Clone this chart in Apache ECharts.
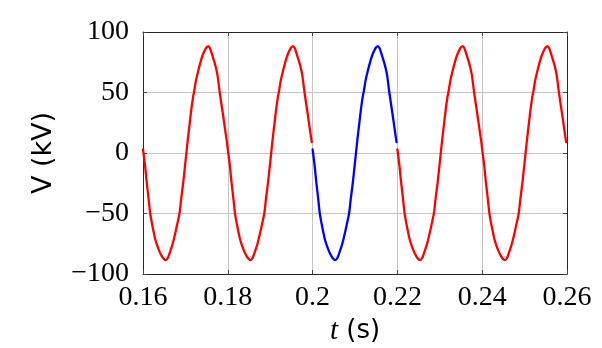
<!DOCTYPE html>
<html>
<head>
<meta charset="utf-8">
<script src="https://cdn.jsdelivr.net/npm/echarts@6/dist/echarts.min.js"></script>
<style>
html,body{margin:0;padding:0;background:#fff;}
#chart{width:602px;height:348px;}
</style>
</head>
<body>
<div id="chart"></div>
<script>
// x tick labels and y tick labels
const xTickLabels = ['0.16', '0.18', '0.2', '0.22', '0.24', '0.26'];
const yTickLabels = ['\u2212100', '\u221250', '0', '50', '100'];

// Segment 1 (red): t in s
const tRed1 = [
0.1600,0.1605,0.1609,0.1613,0.1617,0.1621,0.1625,0.1629,0.1634,0.1639,0.1644,0.1649,0.1654,0.1658,0.1662,0.1666,0.1670,0.1675,0.1680,0.1686,0.1690,0.1695,0.1699,0.1702,0.1706,0.1710,0.1714,0.1718,0.1721,0.1725,0.1730,0.1734,0.1738,0.1742,0.1746,0.1750,0.1754,0.1758,0.1761,0.1765,0.1769,0.1773,0.1776,0.1781,0.1786,0.1791,0.1795,0.1798,
0.1800,0.1805,0.1809,0.1813,0.1817,0.1821,0.1825,0.1829,0.1834,0.1839,0.1844,0.1849,0.1854,0.1858,0.1862,0.1866,0.1870,0.1875,0.1880,0.1886,0.1890,0.1895,0.1899,0.1902,0.1906,0.1910,0.1914,0.1918,0.1921,0.1925,0.1930,0.1934,0.1938,0.1942,0.1946,0.1950,0.1954,0.1958,0.1961,0.1965,0.1969,0.1973,0.1976,0.1981,0.1986,0.1991,0.1995,0.1998
];
// V in kV
const vRed1 = [
3,-11,-25,-37,-50,-58,-65,-71.5,-77,-81.5,-85,-87.5,-88.5,-87,-83.5,-79.5,-75,-68,-60,-50,-38,-24,-11,-1,12,24,36,46,51.5,60,67.5,73,78,82,85,87.3,88.3,86.5,83.5,79,74.5,69,63.5,50,38,26,16,9,
3,-11,-25,-37,-50,-58,-65,-71.5,-77,-81.5,-85,-87.5,-88.5,-87,-83.5,-79.5,-75,-68,-60,-50,-38,-24,-11,-1,12,24,36,46,51.5,60,67.5,73,78,82,85,87.3,88.3,86.5,83.5,79,74.5,69,63.5,50,38,26,16,9
];

// Segment 2 (blue)
const tBlue = [
0.2000,0.2005,0.2009,0.2013,0.2017,0.2021,0.2025,0.2029,0.2034,0.2039,0.2044,0.2049,0.2054,0.2058,0.2062,0.2066,0.2070,0.2075,0.2080,0.2086,0.2090,0.2095,0.2099,0.2102,0.2106,0.2110,0.2114,0.2118,0.2121,0.2125,0.2130,0.2134,0.2138,0.2142,0.2146,0.2150,0.2154,0.2158,0.2161,0.2165,0.2169,0.2173,0.2176,0.2181,0.2186,0.2191,0.2195,0.2198
];
const vBlue = [
3,-11,-25,-37,-50,-58,-65,-71.5,-77,-81.5,-85,-87.5,-88.5,-87,-83.5,-79.5,-75,-68,-60,-50,-38,-24,-11,-1,12,24,36,46,51.5,60,67.5,73,78,82,85,87.3,88.3,86.5,83.5,79,74.5,69,63.5,50,38,26,16,9
];

// Segment 3 (red)
const tRed2 = [
0.2200,0.2205,0.2209,0.2213,0.2217,0.2221,0.2225,0.2229,0.2234,0.2239,0.2244,0.2249,0.2254,0.2258,0.2262,0.2266,0.2270,0.2275,0.2280,0.2286,0.2290,0.2295,0.2299,0.2302,0.2306,0.2310,0.2314,0.2318,0.2321,0.2325,0.2330,0.2334,0.2338,0.2342,0.2346,0.2350,0.2354,0.2358,0.2361,0.2365,0.2369,0.2373,0.2376,0.2381,0.2386,0.2391,0.2395,0.2398,
0.2400,0.2405,0.2409,0.2413,0.2417,0.2421,0.2425,0.2429,0.2434,0.2439,0.2444,0.2449,0.2454,0.2458,0.2462,0.2466,0.2470,0.2475,0.2480,0.2486,0.2490,0.2495,0.2499,0.2502,0.2506,0.2510,0.2514,0.2518,0.2521,0.2525,0.2530,0.2534,0.2538,0.2542,0.2546,0.2550,0.2554,0.2558,0.2561,0.2565,0.2569,0.2573,0.2576,0.2581,0.2586,0.2591,0.2595,0.2598
];
const vRed2 = [
3,-11,-25,-37,-50,-58,-65,-71.5,-77,-81.5,-85,-87.5,-88.5,-87,-83.5,-79.5,-75,-68,-60,-50,-38,-24,-11,-1,12,24,36,46,51.5,60,67.5,73,78,82,85,87.3,88.3,86.5,83.5,79,74.5,69,63.5,50,38,26,16,9,
3,-11,-25,-37,-50,-58,-65,-71.5,-77,-81.5,-85,-87.5,-88.5,-87,-83.5,-79.5,-75,-68,-60,-50,-38,-24,-11,-1,12,24,36,46,51.5,60,67.5,73,78,82,85,87.3,88.3,86.5,83.5,79,74.5,69,63.5,50,38,26,16,9
];

function pairs(t, v) { return t.map((x, i) => [x, v[i]]); }

const X_MIN = 0.16, X_MAX = 0.26, X_INT = 0.02;
const Y_MIN = -100, Y_MAX = 100, Y_INT = 50;

function xLabel(val) {
  const idx = Math.round((val - X_MIN) / X_INT);
  return xTickLabels[idx] !== undefined ? xTickLabels[idx] : '';
}
function yLabel(val) {
  const idx = Math.round((val - Y_MIN) / Y_INT);
  return yTickLabels[idx] !== undefined ? yTickLabels[idx] : '';
}

const frame = { show: true, onZero: false, lineStyle: { color: '#262626', width: 1 } };
const tick = { show: true, inside: true, length: 4, lineStyle: { color: '#444', width: 1 } };
const grid = { show: true, lineStyle: { color: '#c4c4c4', width: 1 } };
const tickFont = { fontFamily: 'Liberation Serif', fontSize: 28, color: '#000' };
const lineBase = { showSymbol: false, symbol: 'none', smooth: 0.3, z: 3 };

const chart = echarts.init(document.getElementById('chart'), null, { renderer: 'canvas' });
chart.setOption({
  animation: false,
  backgroundColor: '#fff',
  grid: { left: 143, right: 35, top: 32, bottom: 74, containLabel: false, outerBoundsMode: 'none' },
  xAxis: [
    {
      type: 'value', min: X_MIN, max: X_MAX, interval: X_INT, position: 'bottom',
      axisLine: frame, axisTick: tick, splitLine: grid,
      axisLabel: Object.assign({ margin: 10, formatter: xLabel }, tickFont),
      name: '{i|t}{s| (s)}', nameLocation: 'middle', nameGap: 42,
      nameTextStyle: {
        rich: {
          i: { fontFamily: 'Liberation Serif', fontStyle: 'italic', fontSize: 29, color: '#000' },
          s: { fontFamily: 'DejaVu Sans', fontSize: 26, color: '#000' }
        }
      }
    },
    {
      type: 'value', min: X_MIN, max: X_MAX, interval: X_INT, position: 'top',
      axisLine: frame, axisTick: tick, splitLine: { show: false }, axisLabel: { show: false }
    }
  ],
  yAxis: [
    {
      type: 'value', min: Y_MIN, max: Y_MAX, interval: Y_INT, position: 'left',
      axisLine: frame, axisTick: tick, splitLine: grid,
      axisLabel: Object.assign({ margin: 14, formatter: yLabel }, tickFont),
      name: 'V (kV)', nameLocation: 'middle', nameGap: 86, nameRotate: 90,
      nameTextStyle: { fontFamily: 'DejaVu Sans', fontSize: 27, color: '#000' }
    },
    {
      type: 'value', min: Y_MIN, max: Y_MAX, interval: Y_INT, position: 'right',
      axisLine: frame, axisTick: tick, splitLine: { show: false }, axisLabel: { show: false }
    }
  ],
  series: [
    Object.assign({ type: 'line', name: 'red1', data: pairs(tRed1, vRed1),
      lineStyle: { color: '#ff0000', width: 2.3, join: 'round', cap: 'round' } }, lineBase),
    Object.assign({ type: 'line', name: 'blue', data: pairs(tBlue, vBlue),
      lineStyle: { color: '#0000ff', width: 2.3, join: 'round', cap: 'round' } }, lineBase),
    Object.assign({ type: 'line', name: 'red2', data: pairs(tRed2, vRed2),
      lineStyle: { color: '#ff0000', width: 2.3, join: 'round', cap: 'round' } }, lineBase)
  ]
});
</script>
</body>
</html>
